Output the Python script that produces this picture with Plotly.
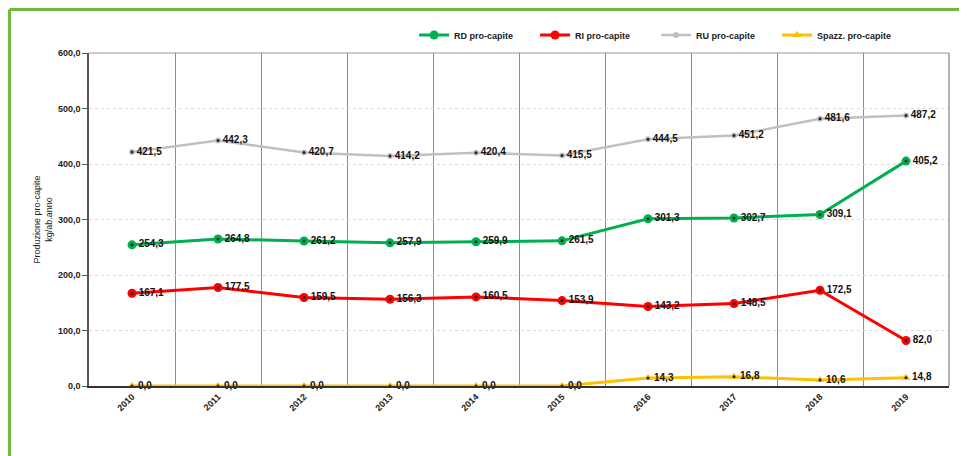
import plotly.graph_objects as go

years = ["2010", "2011", "2012", "2013", "2014", "2015", "2016", "2017", "2018", "2019"]
rd = [254.3, 264.8, 261.2, 257.9, 259.9, 261.5, 301.3, 302.7, 309.1, 405.2]
ri = [167.1, 177.5, 159.5, 156.3, 160.5, 153.9, 143.2, 148.5, 172.5, 82.0]
ru = [421.5, 442.3, 420.7, 414.2, 420.4, 415.5, 444.5, 451.2, 481.6, 487.2]
spazz = [0.0, 0.0, 0.0, 0.0, 0.0, 0.0, 14.3, 16.8, 10.6, 14.8]
y_ticks = [0, 100, 200, 300, 400, 500, 600]

def lab(vals):
    return [f"{v:.1f}".replace(".", ",") for v in vals]

FONT = "Liberation Sans, Arial, sans-serif"
series = [
    ("RD pro-capite", rd, "#00b050", "circle", 9),
    ("RI pro-capite", ri, "#ff0000", "circle", 9),
    ("RU pro-capite", ru, "#c0c0c0", "circle", 6),
    ("Spazz. pro-capite", spazz, "#ffc000", "triangle-up", 8),
]

fig = go.Figure()
for name, vals, color, sym, size in series:
    fig.add_trace(go.Scatter(
        x=years, y=vals, name=name, mode="lines+markers+text",
        line=dict(color=color, width=3 if color != "#c0c0c0" else 2.5),
        marker=dict(symbol=sym, size=size, color=color),
        text=lab(vals), textposition="middle right",
        textfont=dict(family=FONT, size=10, color="#111111", weight="bold"),
        cliponaxis=False,
    ))
    # dark centre dot of each marker
    fig.add_trace(go.Scatter(
        x=years, y=vals, mode="markers", showlegend=False, hoverinfo="skip",
        marker=dict(symbol="circle", size=3, color="#222222"),
        cliponaxis=False,
    ))

fig.update_layout(
    width=967, height=456,
    margin=dict(l=81, r=26, t=45, b=78, autoexpand=False),
    paper_bgcolor="white", plot_bgcolor="white",
    separators=",.",
    font=dict(family=FONT, size=9, color="#222222"),
    legend=dict(
        orientation="h", x=0.378, y=1.054, xanchor="left", yanchor="middle",
        font=dict(family=FONT, size=9, color="#222222", weight="bold"),
        entrywidth=76, entrywidthmode="pixels", itemwidth=30,
        traceorder="normal", bgcolor="rgba(0,0,0,0)",
    ),
    showlegend=True,
)
fig.update_xaxes(
    type="category", tickson="boundaries", showgrid=True,
    gridcolor="#8c8c8c", gridwidth=1, automargin=False,
    showline=True, linecolor="#333333", linewidth=2, mirror=False,
    tickangle=-45, ticks="", range=[-0.5, 9.5],
    tickfont=dict(family=FONT, size=9, color="#222222", weight="bold"),
)
fig.update_yaxes(
    range=[0, 600], tickvals=y_ticks, tickformat=".1f", automargin=False,
    showgrid=True, gridcolor="#d9d9d9", griddash="dot", gridwidth=1,
    showline=True, linecolor="#555555", linewidth=1.5,
    ticks="outside", ticklen=5, tickcolor="#555555",
    zeroline=False,
    tickfont=dict(family=FONT, size=9, color="#222222", weight="bold"),
    title=dict(text="Produzione pro-capite<br>kg/ab.anno",
               font=dict(family=FONT, size=9, color="#222222"), standoff=4),
)
# plot frame (top & right)
fig.add_shape(type="line", xref="paper", yref="paper", x0=0, x1=1, y0=1, y1=1,
              line=dict(color="#999999", width=1))
fig.add_shape(type="line", xref="paper", yref="paper", x0=1, x1=1, y0=0, y1=1,
              line=dict(color="#999999", width=1.5))
# green page border
fig.add_shape(type="line", xref="paper", yref="paper", x0=-0.0924, x1=-0.0924, y0=-0.3, y1=1.1306,
              line=dict(color="#6cbb3c", width=3))
fig.add_shape(type="line", xref="paper", yref="paper", x0=-0.0924, x1=1.05, y0=1.1306, y1=1.1306,
              line=dict(color="#6cbb3c", width=3))

fig.write_html("out.html")
